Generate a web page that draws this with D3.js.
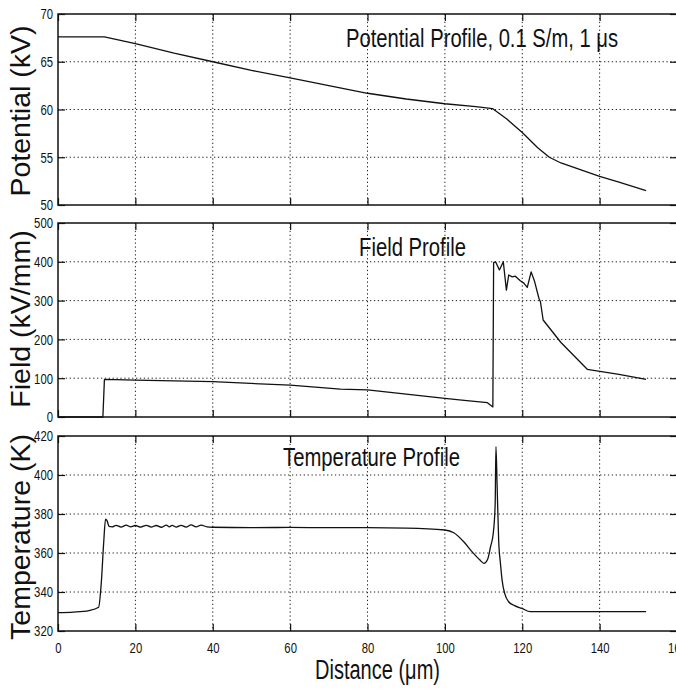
<!DOCTYPE html>
<html>
<head>
<meta charset="utf-8">
<script src="https://cdn.jsdelivr.net/npm/d3@7"></script>
<style>
  body { margin: 0; background: #fff; }
  svg { display: block; }
  .tick text { font-family: 'Liberation Sans Narrow', 'Arial Narrow', 'Liberation Sans', Arial, sans-serif; font-size: 15px; fill: #111; }
  .grid line { stroke: #222; stroke-width: 1; stroke-dasharray: 1.3, 2.6; }
</style>
</head>
<body>
<div id="chart"></div>
<script>
// values
var xTicks = [0, 20, 40, 60, 80, 100, 120, 140, 160];

var potentialTicks = [50, 55, 60, 65, 70];
var potentialX  = [0, 12, 20, 30, 40, 50, 60, 70, 80, 90, 100, 108, 112.3, 116, 120, 124, 127, 130, 135, 140, 145, 152];
var potentialKV = [67.6, 67.6, 66.9, 65.9, 65.0, 64.1, 63.3, 62.5, 61.7, 61.1, 60.6, 60.3, 60.1, 59.0, 57.6, 56.0, 55.0, 54.4, 53.7, 53.0, 52.4, 51.5];

var fieldTicks = [0, 100, 200, 300, 400, 500];
var fieldX    = [0, 11.6, 12, 20, 40, 60, 73, 80, 100, 105, 111, 112.4, 112.6, 113.1, 114.1, 115.1, 115.9, 116.5, 117.4, 118.2, 119.5, 120.4, 121.3, 122.3, 123.2, 124.3, 124.7, 125.4, 130, 136.8, 145, 152];
var fieldKVmm = [0, 0, 97, 95, 91, 82, 72, 70, 48, 43, 37, 26, 398, 400, 379, 400, 327, 366, 361, 363, 351, 345, 334, 374, 349, 306, 297, 250, 192, 123, 110, 97];

var tempTicks = [320, 340, 360, 380, 400, 420];
var tempX = [0, 4, 8, 10.5, 11.2, 11.8, 12.3, 12.7, 13.2, 14.0, 15.0, 16.3, 17.6, 18.8, 20.0, 21.4, 22.8, 24.1, 25.4, 26.7, 28.0, 28.8, 29.5, 30.6, 31.8, 33.1, 34.4, 35.7, 37.0, 38.5, 40, 50, 60, 70, 80, 90, 100, 102.3, 105, 107, 109, 110.1, 111, 111.8, 112.5, 113.0, 113.2, 113.5, 113.9, 114.4, 114.8, 115.5, 116.5, 118, 119.9, 122.1, 130, 140, 152];
var tempK = [329.4, 329.7, 330.5, 332.2, 345, 365, 377.3, 376.5, 373.6, 373.4, 374.2, 373.3, 374.3, 373.4, 374.1, 373.3, 374.2, 373.3, 374.1, 373.2, 374.3, 373.4, 374.2, 373.3, 374.2, 373.3, 374.4, 373.4, 374.3, 373.4, 373.2, 373.0, 373.1, 373.0, 373.0, 372.8, 371.8, 370.4, 365.5, 360.7, 356.5, 354.7, 356.5, 363.2, 370, 385, 414.5, 395, 366.7, 354, 346, 339, 335, 333, 331.6, 329.9, 329.9, 329.9, 329.9];

var width = 676, height = 692;
var narrow = "'Liberation Sans Narrow', 'Arial Narrow', 'Liberation Sans', Arial, sans-serif";
var sans = "'Liberation Sans', Arial, sans-serif";

var svg = d3.select("#chart")
  .append("svg")
    .attr("width", width)
    .attr("height", height);

var x = d3.scaleLinear()
  .domain([0, 160])
  .range([58, 677]);

var panels = [
  {top: 14, bottom: 205, domain: [50, 70], ticks: potentialTicks, xs: potentialX, ys: potentialKV,
   title: "Potential Profile, 0.1 S/m, 1 \u03bcs", tx: 346, ty: 47, tlen: 272,
   label: "Potential (kV)", lc: 111, curve: d3.curveLinear},
  {top: 223, bottom: 417, domain: [0, 500], ticks: fieldTicks, xs: fieldX, ys: fieldKVmm,
   title: "Field Profile", tx: 359, ty: 256, tlen: 107,
   label: "Field (kV/mm)", lc: 319, curve: d3.curveLinear},
  {top: 436, bottom: 631, domain: [320, 420], ticks: tempTicks, xs: tempX, ys: tempK,
   title: "Temperature Profile", tx: 283, ty: 466, tlen: 177,
   label: "Temperature (K)", lc: 537, curve: d3.curveMonotoneX}
];

panels.forEach(function(p, i) {
  var y = d3.scaleLinear()
    .domain(p.domain)
    .range([p.bottom, p.top]);

  var g = svg.append("g");

  // dotted grid
  var grid = g.append("g").classed("grid", true);
  grid.selectAll("line.v")
    .data(xTicks.slice(1, -1))
    .enter()
    .append("line")
      .attr("x1", function(d) { return x(d); })
      .attr("x2", function(d) { return x(d); })
      .attr("y1", p.top)
      .attr("y2", p.bottom);
  grid.selectAll("line.h")
    .data(p.ticks.slice(1, -1))
    .enter()
    .append("line")
      .attr("x1", x(0))
      .attr("x2", x(160))
      .attr("y1", function(d) { return y(d); })
      .attr("y2", function(d) { return y(d); });

  // inward ticks on all four sides
  var last = i == panels.length - 1;
  g.append("g")
    .attr("transform", "translate(0," + p.bottom + ")")
    .call(d3.axisBottom(x).tickValues(xTicks).tickSize(-7).tickPadding(11)
      .tickFormat(last ? d3.format("d") : ""));
  g.append("g")
    .attr("transform", "translate(0," + p.top + ")")
    .call(d3.axisTop(x).tickValues(xTicks).tickSize(-7).tickFormat(""));
  g.append("g")
    .attr("transform", "translate(" + x(0) + ",0)")
    .call(d3.axisLeft(y).tickValues(p.ticks).tickSize(-7).tickPadding(5).tickFormat(d3.format("d")));
  g.append("g")
    .attr("transform", "translate(" + x(160) + ",0)")
    .call(d3.axisRight(y).tickValues(p.ticks).tickSize(-7).tickFormat(""));

  g.selectAll(".domain").remove();
  g.selectAll(".tick line").attr("stroke", "#111").attr("stroke-width", 1.2);
  // the scanned tick numbers are tall and narrow
  g.selectAll(".tick text")
    .filter(function() { return this.textContent.length > 0; })
    .attr("textLength", function() { return this.textContent.length * 6.3; })
    .attr("lengthAdjust", "spacingAndGlyphs");

  g.append("rect")
    .attr("x", x(0))
    .attr("y", p.top)
    .attr("width", x(160) - x(0))
    .attr("height", p.bottom - p.top)
    .attr("fill", "none")
    .attr("stroke", "#111")
    .attr("stroke-width", 1.5);

  var line = d3.line()
    .curve(p.curve)
    .x(function(d) { return x(d[0]); })
    .y(function(d) { return y(d[1]); });

  g.append("path")
    .datum(d3.zip(p.xs, p.ys))
    .attr("d", line)
    .attr("fill", "none")
    .attr("stroke", "#111")
    .attr("stroke-width", 1.3)
    .attr("stroke-linejoin", "round");

  g.append("text")
    .text(p.title)
    .attr("x", p.tx)
    .attr("y", p.ty)
    .attr("textLength", p.tlen)
    .attr("lengthAdjust", "spacingAndGlyphs")
    .style("font-family", narrow)
    .style("font-size", "25px")
    .style("fill", "#111");

  g.append("g")
    .attr("transform", "translate(30," + p.lc + ")")
    .append("text")
    .text(p.label)
    .attr("text-anchor", "middle")
    .attr("transform", "rotate(-90)")
    .style("font-family", sans)
    .style("font-size", "28.5px")
    .style("fill", "#111");
});

svg.append("text")
  .text("Distance (\u03bcm)")
  .attr("x", 315)
  .attr("y", 679)
  .attr("textLength", 125)
  .attr("lengthAdjust", "spacingAndGlyphs")
  .style("font-family", narrow)
  .style("font-size", "27px")
  .style("fill", "#111");
</script>
</body>
</html>
